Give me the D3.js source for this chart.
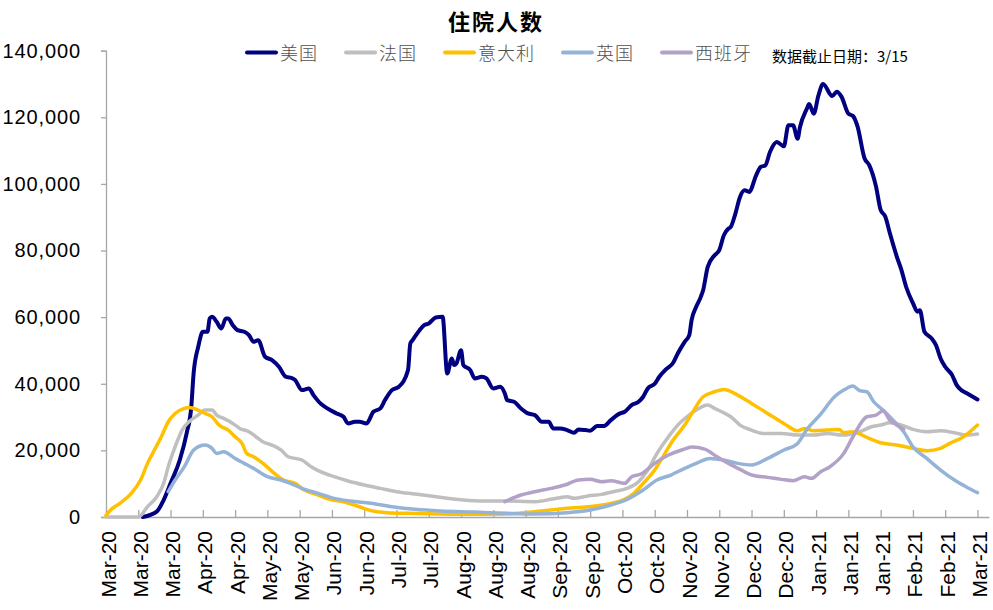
<!DOCTYPE html>
<html><head><meta charset="utf-8">
<script src="https://cdn.jsdelivr.net/npm/d3@7"></script>
<style>body{margin:0;background:#fff;} svg{display:block;}</style>
</head><body>
<svg id="chart" width="993" height="610"></svg>
<script>
const chartTitle = "住院人数";
const note = "数据截止日期：3/15";
const seriesNames = ["美国","法国","意大利","英国","西班牙"];
const seriesColors = ["#000080","#BFBFBF","#FFC000","#95B3D7","#B3A2C7"];
const yTickValues = [0,20000,40000,60000,80000,100000,120000,140000];
const xTickDates = ["2020-03-01","2020-03-15","2020-03-29","2020-04-12","2020-04-26","2020-05-10","2020-05-24",
  "2020-06-07","2020-06-21","2020-07-05","2020-07-19","2020-08-02","2020-08-16","2020-08-30","2020-09-13",
  "2020-09-27","2020-10-11","2020-10-25","2020-11-08","2020-11-22","2020-12-06","2020-12-20","2021-01-03",
  "2021-01-17","2021-01-31","2021-02-14","2021-02-28","2021-03-14"];

const usData = [["2020-03-17",0],["2020-03-23",1600],["2020-03-26",5100],["2020-03-29",10100],["2020-04-02",17100],["2020-04-05",25200],["2020-04-07",33100],["2020-04-08",43100],["2020-04-10",51100],["2020-04-12",55600],["2020-04-14",55600],["2020-04-15",59600],["2020-04-16",60100],["2020-04-18",58600],["2020-04-20",56600],["2020-04-22",59600],["2020-04-23",59600],["2020-04-25",57600],["2020-04-27",56100],["2020-04-30",55600],["2020-05-02",54600],["2020-05-04",52600],["2020-05-06",53100],["2020-05-09",48100],["2020-05-12",47100],["2020-05-15",45100],["2020-05-18",42100],["2020-05-21",41600],["2020-05-22",41100],["2020-05-25",38100],["2020-05-28",38600],["2020-05-30",36600],["2020-06-02",34100],["2020-06-05",32600],["2020-06-09",31100],["2020-06-12",30100],["2020-06-14",28100],["2020-06-17",28600],["2020-06-19",28600],["2020-06-22",28100],["2020-06-25",31600],["2020-06-28",32600],["2020-06-30",35100],["2020-07-03",38100],["2020-07-06",39100],["2020-07-10",44100],["2020-07-11",52100],["2020-07-12",53100],["2020-07-15",56100],["2020-07-17",57600],["2020-07-19",58100],["2020-07-22",59900],["2020-07-25",60100],["2020-07-27",43100],["2020-07-29",47600],["2020-07-30",45600],["2020-07-31",46100],["2020-08-02",50100],["2020-08-03",45600],["2020-08-06",44100],["2020-08-08",41600],["2020-08-11",42100],["2020-08-13",41600],["2020-08-16",38600],["2020-08-19",39100],["2020-08-21",37100],["2020-08-22",35100],["2020-08-25",34600],["2020-08-28",32600],["2020-08-31",31100],["2020-09-03",30600],["2020-09-06",28600],["2020-09-09",28600],["2020-09-11",26600],["2020-09-14",26600],["2020-09-17",26100],["2020-09-20",25300],["2020-09-22",26300],["2020-09-25",26100],["2020-09-27",25900],["2020-09-30",27300],["2020-10-03",27300],["2020-10-06",29100],["2020-10-10",31100],["2020-10-12",31600],["2020-10-15",33600],["2020-10-18",34600],["2020-10-20",36100],["2020-10-22",38600],["2020-10-25",40000],["2020-10-27",42100],["2020-10-30",44400],["2020-11-02",46300],["2020-11-04",49100],["2020-11-07",52600],["2020-11-09",54600],["2020-11-10",59100],["2020-11-12",63100],["2020-11-14",66100],["2020-11-15",68100],["2020-11-17",75100],["2020-11-20",78600],["2020-11-22",80100],["2020-11-24",84600],["2020-11-26",86600],["2020-11-27",87100],["2020-11-29",91100],["2020-12-01",96100],["2020-12-03",98100],["2020-12-05",97600],["2020-12-08",102600],["2020-12-10",105100],["2020-12-12",105600],["2020-12-14",109600],["2020-12-17",112600],["2020-12-20",111300],["2020-12-22",117600],["2020-12-24",117600],["2020-12-26",113600],["2020-12-27",117000],["2020-12-30",122600],["2020-12-31",124000],["2021-01-02",121100],["2021-01-04",126500],["2021-01-06",130000],["2021-01-10",126400],["2021-01-12",127700],["2021-01-14",126200],["2021-01-17",121100],["2021-01-19",120400],["2021-01-21",117200],["2021-01-24",107700],["2021-01-26",105700],["2021-01-29",99200],["2021-01-31",92200],["2021-02-02",90200],["2021-02-04",85200],["2021-02-07",78200],["2021-02-09",74200],["2021-02-11",69200],["2021-02-14",64200],["2021-02-16",61600],["2021-02-17",62100],["2021-02-19",55600],["2021-02-22",53700],["2021-02-24",51600],["2021-02-26",47600],["2021-02-28",45100],["2021-03-03",42600],["2021-03-05",39600],["2021-03-07",38100],["2021-03-09",37300],["2021-03-12",36100],["2021-03-14",35300]];

const franceData = [["2020-03-01",0],["2020-03-15",0],["2020-03-19",3100],["2020-03-23",6100],["2020-03-26",10100],["2020-03-28",15100],["2020-03-31",21100],["2020-04-03",26100],["2020-04-06",28600],["2020-04-10",30600],["2020-04-13",32100],["2020-04-16",32100],["2020-04-18",30600],["2020-04-21",29600],["2020-04-25",28100],["2020-04-28",26600],["2020-05-02",25600],["2020-05-05",24100],["2020-05-08",22600],["2020-05-12",21600],["2020-05-16",20100],["2020-05-19",18100],["2020-05-25",17100],["2020-05-29",15100],["2020-06-02",13600],["2020-06-08",12100],["2020-06-14",10800],["2020-06-21",9600],["2020-06-28",8600],["2020-07-05",7600],["2020-07-13",6900],["2020-07-20",6300],["2020-07-27",5600],["2020-08-03",5100],["2020-08-12",4800],["2020-08-21",4800],["2020-09-03",4600],["2020-09-10",5300],["2020-09-14",5800],["2020-09-17",6100],["2020-09-20",5600],["2020-09-26",6300],["2020-10-02",6800],["2020-10-07",7600],["2020-10-13",8600],["2020-10-18",10600],["2020-10-22",14100],["2020-10-26",19100],["2020-10-31",24100],["2020-11-04",27600],["2020-11-08",30100],["2020-11-12",32100],["2020-11-17",33600],["2020-11-20",32600],["2020-11-23",31600],["2020-11-27",30100],["2020-12-01",27600],["2020-12-06",26100],["2020-12-11",25100],["2020-12-19",25100],["2020-12-26",24600],["2021-01-02",24600],["2021-01-08",25100],["2021-01-14",24600],["2021-01-22",25600],["2021-01-27",27100],["2021-01-31",27600],["2021-02-04",28300],["2021-02-09",27600],["2021-02-14",26300],["2021-02-20",25600],["2021-02-26",25900],["2021-03-04",25300],["2021-03-09",24600],["2021-03-14",24900]];

const italyData = [["2020-03-01",500],["2020-03-03",2100],["2020-03-07",4100],["2020-03-12",7100],["2020-03-16",11100],["2020-03-19",16100],["2020-03-22",20100],["2020-03-25",24100],["2020-03-28",28600],["2020-03-31",31100],["2020-04-04",32600],["2020-04-06",32900],["2020-04-10",32100],["2020-04-13",31100],["2020-04-16",30100],["2020-04-19",27600],["2020-04-23",26100],["2020-04-26",24100],["2020-04-29",22100],["2020-05-01",19100],["2020-05-04",18100],["2020-05-09",15600],["2020-05-13",13100],["2020-05-17",11100],["2020-05-22",10100],["2020-05-26",8100],["2020-06-01",6600],["2020-06-06",5300],["2020-06-12",4600],["2020-06-18",3300],["2020-06-24",1900],["2020-07-01",1300],["2020-07-10",1100],["2020-07-24",900],["2020-08-08",800],["2020-08-22",900],["2020-09-03",1600],["2020-09-17",2600],["2020-09-29",3300],["2020-10-06",4100],["2020-10-12",5300],["2020-10-16",7100],["2020-10-20",10100],["2020-10-25",14100],["2020-10-29",18600],["2020-11-02",23100],["2020-11-07",27600],["2020-11-11",32100],["2020-11-15",36100],["2020-11-20",37600],["2020-11-24",38300],["2020-11-30",36600],["2020-12-06",34100],["2020-12-13",31100],["2020-12-20",28100],["2020-12-26",25900],["2020-12-29",26600],["2021-01-02",25900],["2021-01-08",26100],["2021-01-13",26300],["2021-01-15",25300],["2021-01-19",25600],["2021-01-25",23900],["2021-01-31",22300],["2021-02-07",21600],["2021-02-14",20600],["2021-02-20",19900],["2021-02-26",20600],["2021-03-02",22100],["2021-03-08",24100],["2021-03-14",27600]];

const ukData = [["2020-03-28",7600],["2020-03-31",11100],["2020-04-04",15100],["2020-04-08",20100],["2020-04-13",21600],["2020-04-16",20600],["2020-04-18",19100],["2020-04-21",19600],["2020-04-26",17600],["2020-04-30",16100],["2020-05-04",14600],["2020-05-10",12100],["2020-05-16",11100],["2020-05-20",10100],["2020-05-25",8600],["2020-06-01",7100],["2020-06-08",5600],["2020-06-15",4800],["2020-06-24",4100],["2020-07-03",3100],["2020-07-13",2300],["2020-07-24",1800],["2020-08-08",1500],["2020-08-22",1100],["2020-09-03",900],["2020-09-17",1300],["2020-09-27",2100],["2020-10-06",3600],["2020-10-13",5300],["2020-10-20",8100],["2020-10-26",11100],["2020-11-01",12600],["2020-11-07",14600],["2020-11-12",16100],["2020-11-18",17600],["2020-11-24",17100],["2020-11-30",16100],["2020-12-06",15600],["2020-12-13",17600],["2020-12-20",20100],["2020-12-26",22100],["2020-12-30",26300],["2021-01-05",30900],["2021-01-11",36100],["2021-01-15",38100],["2021-01-19",39300],["2021-01-22",37900],["2021-01-25",37600],["2021-01-28",34600],["2021-02-01",32100],["2021-02-06",28600],["2021-02-10",25600],["2021-02-14",21100],["2021-02-20",17600],["2021-02-26",14100],["2021-03-04",11100],["2021-03-09",9100],["2021-03-14",7300]];

const spainData = [["2020-08-21",4600],["2020-08-28",6600],["2020-09-03",7600],["2020-09-10",8600],["2020-09-16",9600],["2020-09-22",11100],["2020-09-27",11300],["2020-10-02",10600],["2020-10-06",10900],["2020-10-12",10100],["2020-10-15",12100],["2020-10-19",12900],["2020-10-25",16100],["2020-10-31",18600],["2020-11-06",20200],["2020-11-10",21000],["2020-11-16",20300],["2020-11-21",18100],["2020-11-26",16100],["2020-12-01",14300],["2020-12-06",12600],["2020-12-13",11900],["2020-12-19",11300],["2020-12-24",10900],["2020-12-29",12100],["2021-01-01",11600],["2021-01-05",13600],["2021-01-09",15100],["2021-01-15",19100],["2021-01-19",24100],["2021-01-25",30100],["2021-01-29",30600],["2021-02-01",31900],["2021-02-04",29100],["2021-02-07",27600],["2021-02-10",26300]];

const allSeries = [usData, franceData, italyData, ukData, spainData];

const parse = d3.utcParse("%Y-%m-%d");
const fmt = d3.utcFormat("%b-%y");
const svg = d3.select("#chart");

const x = d3.scaleUtc()
  .domain([parse("2020-03-01"), parse("2021-03-19")])
  .range([106, 989]);
const y = d3.scaleLinear().domain([0, 140000]).range([517, 50.7]);

// axes
const yAxis = svg.append("g").attr("transform", "translate(106,0)")
  .call(d3.axisLeft(y).tickValues(yTickValues).tickSize(5).tickPadding(20).tickFormat(d3.format(",")));
yAxis.selectAll("path,line").attr("stroke", "#A6A6A6").attr("stroke-width", 1.3);
yAxis.selectAll("text").attr("font-family", "Liberation Sans, Arial, sans-serif")
  .attr("font-size", 20).attr("letter-spacing", "0.9px").attr("fill", "#000");

const xAxis = svg.append("g").attr("transform", "translate(0,517)")
  .call(d3.axisBottom(x).tickValues(xTickDates.map(parse)).tickSizeInner(-7).tickSizeOuter(0).tickFormat(fmt));
xAxis.selectAll("path,line").attr("stroke", "#A6A6A6").attr("stroke-width", 1.3);
xAxis.selectAll("text")
  .attr("font-family", "Liberation Sans, Arial, sans-serif").attr("font-size", 21).attr("fill", "#000")
  .attr("transform", "rotate(-90)").attr("text-anchor", "end")
  .attr("x", -14).attr("y", 0).attr("dy", "0.43em");

// lines
const line = d3.line().x(d => x(parse(d[0]))).y(d => y(d[1])).curve(d3.curveMonotoneX);
allSeries.forEach((data, i) => {
  svg.append("path").datum(data)
    .attr("fill", "none")
    .attr("stroke", seriesColors[i])
    .attr("stroke-width", i === 0 ? 4 : 3.5)
    .attr("stroke-linejoin", "round")
    .attr("stroke-linecap", "round")
    .attr("d", line);
});

// title
svg.append("text").attr("x", 496).attr("y", 30).attr("text-anchor", "middle")
  .attr("font-family", "Noto Sans CJK SC, sans-serif").attr("font-weight", "bold")
  .attr("font-size", 22).attr("letter-spacing", "2px").text(chartTitle);

// legend
let lx = 247;
seriesNames.forEach((name, i) => {
  const g = svg.append("g").attr("transform", `translate(${lx},0)`);
  g.append("line").attr("x1", 0).attr("x2", 29).attr("y1", 52.5).attr("y2", 52.5)
    .attr("stroke", seriesColors[i]).attr("stroke-width", 4).attr("stroke-linecap", "round");
  const t = g.append("text").attr("x", 33).attr("y", 60)
    .attr("font-family", "Noto Sans CJK SC, sans-serif").attr("font-weight", 300)
    .attr("font-size", 18).attr("letter-spacing", "1px").attr("fill", "#505050").text(name);
  lx += 33 + t.node().getComputedTextLength() + 28;
});

svg.append("text").attr("x", 772).attr("y", 62)
  .attr("font-family", "Noto Sans CJK SC, sans-serif").attr("font-size", 15)
  .attr("fill", "#000").text(note);
</script>
</body></html>
